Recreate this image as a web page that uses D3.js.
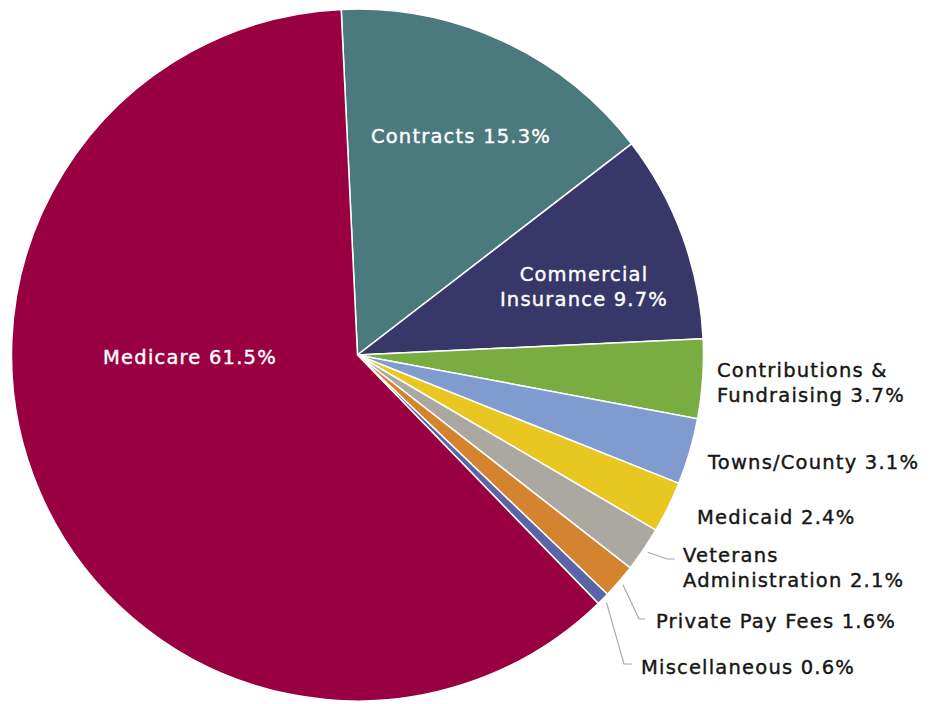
<!DOCTYPE html>
<html>
<head>
<meta charset="utf-8">
<script src="https://cdn.jsdelivr.net/npm/d3@7"></script>
<style>
  body { margin: 0; background: #fff; }
  text { font-family: "DejaVu Sans", sans-serif; letter-spacing: 1.2px; }
</style>
</head>
<body>
<div id="pie"></div>
<script>
var categories = ["Contracts", "Commercial Insurance", "Contributions & Fundraising", "Towns/County",
  "Medicaid", "Veterans Administration", "Private Pay Fees", "Miscellaneous", "Medicare"];
var values = [15.3, 9.7, 3.7, 3.1, 2.4, 2.1, 1.6, 0.6, 61.5];
var colors = ["#4a7a7e", "#38376a", "#7aad41", "#7f9bcf", "#e8c721", "#aba8a2", "#d4832f", "#5b64a6", "#990041"];
var labelLines = [
  ["Contracts 15.3%"],
  ["Commercial", "Insurance 9.7%"],
  ["Contributions &", "Fundraising 3.7%"],
  ["Towns/County 3.1%"],
  ["Medicaid 2.4%"],
  ["Veterans", "Administration 2.1%"],
  ["Private Pay Fees 1.6%"],
  ["Miscellaneous 0.6%"],
  ["Medicare 61.5%"]
];

var svgWidth = 934;
var svgHeight = 704;
var cx = 357.5, cy = 355, radius = 346;

// label layout: inside labels are centred, outside ones left aligned
var labelPos = [
  {x: 461, y: 137, anchor: "middle", fill: "#fff"},
  {x: 584, y: 275, anchor: "middle", fill: "#fff"},
  {x: 717, y: 371, anchor: "start", fill: "#161616"},
  {x: 708, y: 463, anchor: "start", fill: "#161616"},
  {x: 697, y: 518, anchor: "start", fill: "#161616"},
  {x: 683, y: 556, anchor: "start", fill: "#161616", elbow: [667, 559], end: 675},
  {x: 656, y: 622, anchor: "start", fill: "#161616", elbow: [639, 619], end: 645},
  {x: 641, y: 668, anchor: "start", fill: "#161616", elbow: [624, 664], end: 632},
  {x: 190, y: 358, anchor: "middle", fill: "#fff"}
];

var data = categories.map(function(c, i) {
  return {name: c, value: values[i], color: colors[i], lines: labelLines[i], pos: labelPos[i]};
});

var svg = d3.select("#pie")
  .append("svg")
  .attr("width", svgWidth)
  .attr("height", svgHeight);

var chartGroup = svg.append("g")
  .attr("transform", `translate(${cx}, ${cy})`);

var start = -2.7 * Math.PI / 180;
var pie = d3.pie()
  .sort(null)
  .value(d => d.value)
  .startAngle(start)
  .endAngle(start + 2 * Math.PI);

var arc = d3.arc().innerRadius(0).outerRadius(radius);
var outer = d3.arc().innerRadius(radius + 5).outerRadius(radius + 5);

var arcs = pie(data);

chartGroup.selectAll(".slice")
  .data(arcs)
  .enter()
  .append("path")
  .attr("class", "slice")
  .attr("d", arc)
  .attr("fill", d => d.data.color)
  .attr("stroke", "#fff")
  .attr("stroke-width", 1.5);

// leader lines for the thin slices
svg.selectAll(".leader")
  .data(arcs.filter(d => d.data.pos.elbow))
  .enter()
  .append("polyline")
  .attr("class", "leader")
  .attr("fill", "none")
  .attr("stroke", "#a8a8a8")
  .attr("stroke-width", 1.2)
  .attr("points", function(d) {
    var p = outer.centroid(d);
    var e = d.data.pos.elbow;
    return [[p[0] + cx, p[1] + cy], e, [d.data.pos.end, e[1]]].map(q => q.join(",")).join(" ");
  });

var labels = svg.selectAll(".label")
  .data(data)
  .enter()
  .append("text")
  .attr("class", "label")
  .attr("x", d => d.pos.x)
  .attr("y", d => d.pos.y)
  .attr("text-anchor", d => d.pos.anchor)
  .attr("dominant-baseline", "middle")
  .attr("fill", d => d.pos.fill)
  .attr("stroke", d => d.pos.fill)
  .attr("stroke-width", 0.4)
  .style("font-size", "19.5px");

labels.selectAll("tspan")
  .data(d => d.lines.map(l => ({text: l, x: d.pos.x})))
  .enter()
  .append("tspan")
  .attr("x", d => d.x)
  .attr("dy", (d, i) => i === 0 ? 0 : 25)
  .text(d => d.text);
</script>
</body>
</html>
